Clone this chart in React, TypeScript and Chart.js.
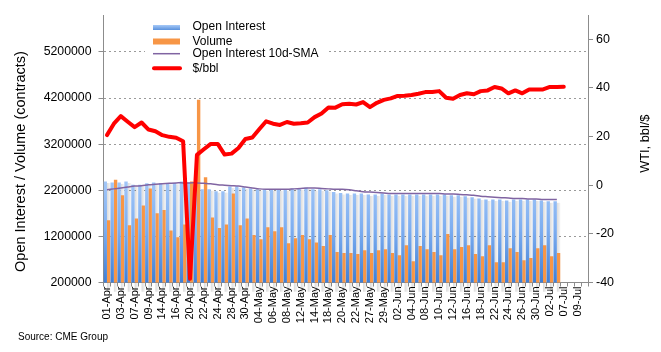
import React, { useEffect, useRef } from 'react';
import { Chart, registerables } from 'chart.js';

Chart.register(...registerables);

const dates = ['01-Apr','02-Apr','03-Apr','06-Apr','07-Apr','08-Apr','09-Apr','13-Apr','14-Apr','15-Apr','16-Apr','17-Apr','20-Apr','21-Apr','22-Apr','23-Apr','24-Apr','27-Apr','28-Apr','29-Apr','30-Apr',
  '01-May','04-May','05-May','06-May','07-May','08-May','11-May','12-May','13-May','14-May','15-May','18-May','19-May','20-May','21-May','22-May','26-May','27-May','28-May','29-May',
  '01-Jun','02-Jun','03-Jun','04-Jun','05-Jun','08-Jun','09-Jun','10-Jun','11-Jun','12-Jun','15-Jun','16-Jun','17-Jun','18-Jun','19-Jun','22-Jun','23-Jun','24-Jun','25-Jun','26-Jun','29-Jun','30-Jun',
  '01-Jul','02-Jul','06-Jul','07-Jul','08-Jul','09-Jul','10-Jul'];

const openInterest = [2390000,2370000,2370000,2390000,2320000,2320000,2350000,2370000,2360000,2360000,
  2360000,2390000,2370000,2360000,2220000,2220000,2180000,2180000,2280000,2280000,
  2260000,2240000,2220000,2220000,2220000,2220000,2220000,2240000,2240000,2260000,
  2220000,2220000,2200000,2160000,2140000,2130000,2130000,2130000,2110000,2110000,
  2130000,2110000,2110000,2110000,2110000,2110000,2110000,2110000,2110000,2110000,
  2090000,2090000,2070000,2050000,2020000,2000000,2000000,2000000,1980000,2000000,
  2000000,2000000,2000000,1980000,1960000,1960000];

const volume = [1550000,2430000,2090000,1440000,1590000,1870000,2240000,1700000,1770000,1330000,
  1180000,1460000,2390000,4160000,2480000,1610000,1380000,1460000,2130000,1440000,
  1590000,1230000,1140000,1400000,1310000,1400000,1050000,1160000,1230000,1140000,
  1070000,990000,1230000,860000,840000,840000,820000,900000,840000,900000,
  920000,840000,790000,1010000,660000,990000,920000,860000,790000,1250000,
  920000,970000,1010000,820000,770000,1010000,640000,640000,940000,860000,
  680000,730000,940000,1010000,770000,840000];

const oiSma = [2210000,2230000,2250000,2270000,2290000,2300000,2320000,2330000,2340000,2350000,
  2360000,2360000,2360000,2360000,2350000,2340000,2320000,2310000,2300000,2290000,
  2270000,2250000,2230000,2220000,2220000,2220000,2220000,2230000,2240000,2250000,
  2250000,2240000,2230000,2220000,2220000,2210000,2190000,2170000,2160000,2150000,
  2140000,2130000,2130000,2130000,2130000,2130000,2130000,2130000,2130000,2120000,
  2120000,2110000,2100000,2090000,2070000,2060000,2050000,2040000,2030000,2020000,
  2020000,2010000,2010000,2000000,2000000,2000000];

const wti = [20.6,25.3,28.4,26.1,23.9,25.8,22.9,22.2,20.6,19.9,
  19.5,18.1,-38.5,12.5,14.8,17.0,17.0,12.6,13.0,15.3,
  19.0,19.6,23.0,26.3,25.3,24.8,26.0,25.3,25.5,25.8,
  28.0,29.5,32.0,31.9,33.3,33.5,33.2,34.2,32.1,33.9,
  35.1,35.7,36.7,36.8,37.1,37.6,38.3,38.3,38.7,36.0,
  35.6,37.1,37.8,37.4,38.7,39.0,40.4,39.8,37.8,39.0,
  37.8,39.4,39.4,39.4,40.4,40.4,40.5];

const leftTicks = [200000, 1200000, 2200000, 3200000, 4200000, 5200000];
const rightTicks = [-40, -20, 0, 20, 40, 60];

const legendLabels = ['Open Interest', 'Volume', 'Open Interest 10d-SMA', '$/bbl'];
const leftTitle = 'Open Interest / Volume (contracts)';
const rightTitle = 'WTI, bbl/$';
const sourceText = 'Source: CME Group';

const FONT = '"Liberation Sans", Arial, sans-serif';
const ORANGE = '#f79646';
const PURPLE = '#8064a2';
const RED = '#ff0000';

function blueFill(ctx: any) {
  const chart = ctx.chart;
  const a = chart.chartArea;
  if (!a) return '#7aaaf0';
  const g = chart.ctx.createLinearGradient(0, a.top + (a.bottom - a.top) * 0.6, 0, a.bottom);
  g.addColorStop(0, '#a6c9f8');
  g.addColorStop(0.5, '#7eaef0');
  g.addColorStop(1, '#3f7fd6');
  return g;
}

const shadowPlugin = {
  id: 'barShadow',
  beforeDatasetsDraw(chart: any) {
    const meta = chart.getDatasetMeta(0);
    const ctx = chart.ctx;
    ctx.save();
    meta.data.forEach((el: any) => {
      const { x, y, base, width } = el.getProps(['x', 'y', 'base', 'width'], true);
      const x0 = x + width / 2;
      const g = ctx.createLinearGradient(x0, 0, x0 + 3.5, 0);
      g.addColorStop(0, 'rgba(0,0,0,0.14)');
      g.addColorStop(1, 'rgba(0,0,0,0.03)');
      ctx.fillStyle = g;
      ctx.fillRect(x0, y + 1.5, 3.5, base - y - 1.5);
    });
    ctx.restore();
  },
};

const decorPlugin = {
  id: 'decor',
  afterDraw(chart: any) {
    const ctx = chart.ctx;
    ctx.save();
    // legend box
    ctx.fillStyle = '#ffffff';
    ctx.fillRect(145, 16, 182, 62);
    // swatches
    const sg = ctx.createLinearGradient(0, 25, 0, 30);
    sg.addColorStop(0, '#a6c9f8');
    sg.addColorStop(1, '#5a91dc');
    ctx.fillStyle = sg;
    ctx.fillRect(153, 25, 27, 5);
    ctx.fillStyle = ORANGE;
    ctx.fillRect(153, 38.5, 27, 6);
    ctx.strokeStyle = PURPLE;
    ctx.lineWidth = 1.5;
    ctx.beginPath();
    ctx.moveTo(153, 53.7);
    ctx.lineTo(180, 53.7);
    ctx.stroke();
    ctx.strokeStyle = RED;
    ctx.lineWidth = 4;
    ctx.lineCap = 'round';
    ctx.beginPath();
    ctx.moveTo(154, 68.3);
    ctx.lineTo(180, 68.3);
    ctx.stroke();
    ctx.fillStyle = '#000000';
    ctx.font = '12px ' + FONT;
    ctx.textBaseline = 'middle';
    ctx.textAlign = 'left';
    const ys = [26.7, 41.3, 53.7, 68.3];
    legendLabels.forEach((t, i) => ctx.fillText(t, 192.5, ys[i]));

    // left title
    ctx.save();
    ctx.translate(21, 161.5);
    ctx.rotate(-Math.PI / 2);
    ctx.font = '14.5px ' + FONT;
    ctx.textAlign = 'center';
    ctx.textBaseline = 'middle';
    ctx.fillText(leftTitle, 0, 0);
    ctx.restore();

    // right title
    ctx.save();
    ctx.translate(645, 143.7);
    ctx.rotate(-Math.PI / 2);
    ctx.font = '12.8px ' + FONT;
    ctx.textAlign = 'center';
    ctx.textBaseline = 'middle';
    ctx.fillText(rightTitle, 0, 0);
    ctx.restore();

    // source
    ctx.font = '10px ' + FONT;
    ctx.textAlign = 'left';
    ctx.textBaseline = 'middle';
    ctx.fillText(sourceText, 18, 337.7);
    ctx.restore();
  },
};

export default function App() {
  const ref = useRef<HTMLCanvasElement | null>(null);

  useEffect(() => {
    if (!ref.current) return;
    const chart = new Chart(ref.current, {
      type: 'bar',
      data: {
        labels: dates,
        datasets: [
          {
            type: 'bar',
            label: 'Open Interest',
            data: openInterest,
            backgroundColor: blueFill,
            borderWidth: 0,
            yAxisID: 'y',
            order: 2,
            categoryPercentage: 0.98,
            barPercentage: 1.0,
          },
          {
            type: 'bar',
            label: 'Volume',
            data: volume,
            backgroundColor: ORANGE,
            borderWidth: 0,
            yAxisID: 'y',
            order: 2,
            categoryPercentage: 0.98,
            barPercentage: 1.0,
          },
          {
            type: 'line',
            label: 'Open Interest 10d-SMA',
            data: oiSma,
            borderColor: PURPLE,
            borderWidth: 1.5,
            pointRadius: 0,
            tension: 0.3,
            yAxisID: 'y',
            order: 1,
          },
          {
            type: 'line',
            label: '$/bbl',
            data: wti,
            borderColor: RED,
            borderWidth: 4,
            pointRadius: 0,
            tension: 0,
            borderJoinStyle: 'round',
            borderCapStyle: 'round',
            yAxisID: 'y1',
            order: 0,
          },
        ] as any,
      },
      options: {
        animation: false,
        responsive: false,
        devicePixelRatio: 1,
        layout: { padding: { top: 15, left: 0, right: 0, bottom: 0 } },
        plugins: {
          legend: { display: false },
          tooltip: { enabled: false },
          title: { display: false },
        },
        scales: {
          x: {
            type: 'category',
            offset: true,
            grid: {
              display: true,
              drawOnChartArea: false,
              drawTicks: true,
              tickLength: 4,
              color: '#8c8c8c',
              offset: true,
            },
            border: { display: true, color: '#8c8c8c' },
            ticks: {
              autoSkip: false,
              minRotation: 90,
              maxRotation: 90,
              padding: 0,
              color: '#000000',
              font: { family: FONT, size: 11 },
              callback: (_v: any, i: number) => (i % 2 === 0 ? dates[i] : ''),
            },
            afterFit: (s: any) => { s.height = 69.5; },
          },
          y: {
            type: 'linear',
            position: 'left',
            min: 200000,
            max: 6000000,
            afterBuildTicks: (s: any) => { s.ticks = leftTicks.map((v) => ({ value: v })); },
            grid: {
              color: '#9a9a9a',
              lineWidth: 1,
              drawTicks: true,
              tickLength: 5,
              tickColor: '#8c8c8c',
            },
            border: { display: true, color: '#8c8c8c', dash: [2, 3] },
            ticks: {
              padding: 7,
              color: '#000000',
              font: { family: FONT, size: 12.3 },
              callback: (v: any) => String(v),
            },
            afterFit: (s: any) => { s.width = 103.5; },
          },
          y1: {
            type: 'linear',
            position: 'right',
            min: -40,
            max: 70,
            afterBuildTicks: (s: any) => { s.ticks = rightTicks.map((v) => ({ value: v })); },
            grid: {
              drawOnChartArea: false,
              drawTicks: true,
              tickLength: 5,
              color: '#8c8c8c',
            },
            border: { display: true, color: '#8c8c8c' },
            ticks: {
              padding: 3,
              color: '#000000',
              font: { family: FONT, size: 12.5 },
              callback: (v: any) => String(v),
            },
            afterFit: (s: any) => { s.width = 73; },
          },
        },
      } as any,
      plugins: [shadowPlugin, decorPlugin],
    });
    return () => chart.destroy();
  }, []);

  return (
    <div style={{ position: 'absolute', left: 0, top: 0, width: 661, height: 352, background: '#fff' }}>
      <canvas ref={ref} width={661} height={352} style={{ width: 661, height: 352, display: 'block' }} />
    </div>
  );
}
